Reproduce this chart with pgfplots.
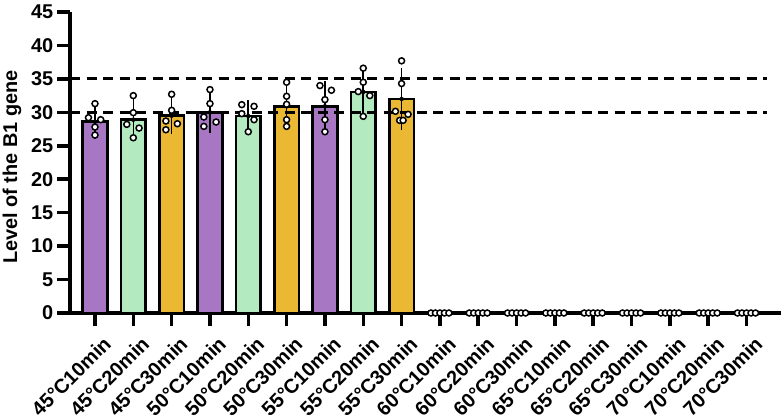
\documentclass[border=0pt]{standalone}
\usepackage{fontspec}
\setmainfont{Liberation Sans}
\usepackage{pgfplots}
\pgfplotsset{compat=1.18}
\usepackage{pgfplotstable}
\definecolor{cpur}{HTML}{A877C4}
\definecolor{cgrn}{HTML}{B4EAC0}
\definecolor{cyel}{HTML}{EAB833}

\pgfplotstableread{
x y
0 28.6
3 30.0
6 30.9
}\purplebars
\pgfplotstableread{
x y
1 28.9
4 29.45
7 33.05
}\greenbars
\pgfplotstableread{
x y
2 29.5
5 30.9
8 32.0
}\yellowbars
\pgfplotstableread{
x y e
0 28.6 1.75
1 28.9 2.4
2 29.5 1.9
3 30.0 2.3
4 29.45 1.5
5 30.9 2.65
6 30.9 2.95
7 33.05 2.65
8 32.0 3.75
}\errs
\pgfplotstableread{
x y
0 31.3
-0.17 29.2
0.15 28.9
0 27.8
0 26.6
1 32.5
1 29.95
0.83 28.2
1.15 27.65
1 26.2
2 32.7
2 30.3
1.85 28.7
2.15 28.3
1.85 27.4
3 33.4
3 31.3
2.84 29.3
3.16 28.55
2.84 27.9
3.83 31.15
4.15 30.9
3.83 29.8
4.15 28.9
4 27.1
5 34.5
5 32.4
5 31.2
5 28.9
5 27.9
5.87 34.0
6.17 33.3
6 31.9
6 28.9
6 27.1
7 36.6
7 34.5
6.87 33.1
7.17 32.5
7 29.4
8 37.7
8 34.3
7.84 30.15
8.17 29.7
7.95 28.8
8.04 28.8
}\pts
\pgfplotstableread{
x y
8.765 0
8.882 0
9 0
9.118 0
9.235 0
9.765 0
9.882 0
10 0
10.118 0
10.235 0
10.765 0
10.882 0
11 0
11.118 0
11.235 0
11.765 0
11.882 0
12 0
12.118 0
12.235 0
12.765 0
12.882 0
13 0
13.118 0
13.235 0
13.765 0
13.882 0
14 0
14.118 0
14.235 0
14.765 0
14.882 0
15 0
15.118 0
15.235 0
15.765 0
15.882 0
16 0
16.118 0
16.235 0
16.765 0
16.882 0
17 0
17.118 0
17.235 0
}\zeropts

\begin{document}
\begin{tikzpicture}
\begin{axis}[
  scale only axis, width=711bp, height=301bp,
  xmin=-0.652, xmax=17.9, ymin=0, ymax=45,
  axis x line*=bottom, axis y line*=left,
  axis line style={-, line width=3.5bp},
  ytick={0,5,...,45}, xtick={0,...,17},
  xticklabels={45°C10min,45°C20min,45°C30min,50°C10min,50°C20min,50°C30min,55°C10min,55°C20min,55°C30min,60°C10min,60°C20min,60°C30min,65°C10min,65°C20min,65°C30min,70°C10min,70°C20min,70°C30min},
  tick align=outside, major tick length=12.5bp,
  every tick/.style={black, line width=3.5bp},
  yticklabel style={font=\bfseries\fontsize{20}{20}\selectfont, inner sep=1bp, xshift=-3bp},
  /pgf/number format/assume math mode=true,
  xticklabel style={font=\bfseries\fontsize{20}{20}\selectfont, xshift=7bp, yshift=-8bp, rotate=45, anchor=north east, inner sep=1bp},
  ylabel={Level of the B1 gene},
  ylabel style={at={(axis description cs:-0.0816,0.485)}, anchor=center, font=\bfseries\fontsize{20}{20}\selectfont},
  clip=false,
]
\coordinate (O) at (rel axis cs:0,0);
\addplot[ybar, bar width=0.64, bar shift=0pt, fill=cpur, draw=black, line width=2.7bp] table {\purplebars};
\addplot[ybar, bar width=0.64, bar shift=0pt, fill=cgrn, draw=black, line width=2.7bp] table {\greenbars};
\addplot[ybar, bar width=0.64, bar shift=0pt, fill=cyel, draw=black, line width=2.7bp] table {\yellowbars};
\addplot[black, line width=2.8bp, dash pattern=on 10bp off 6.5bp] coordinates {(-0.65,30) (17.53,30)};
\addplot[black, line width=2.8bp, dash pattern=on 10bp off 6.5bp] coordinates {(-0.65,35) (17.53,35)};
\addplot[black, only marks, mark=none, error bars/.cd, y dir=both, y explicit,
  error bar style={black, solid, line width=1.6bp},
  error mark options={black, solid, line width=1.6bp, mark size=5.5bp}]
  table[x=x, y=y, y error=e] {\errs};
\addplot[only marks, mark=*, mark size=3bp, mark options={fill=white, draw=black, line width=1.5bp}] table {\pts};
\addplot[only marks, mark=*, mark size=3bp, mark options={fill=white, draw=black, line width=1.5bp}] table {\zeropts};
\end{axis}
\pgfresetboundingbox
\path (O) ++(-70bp,-107bp) rectangle ++(783bp,420bp);
\end{tikzpicture}
\end{document}
